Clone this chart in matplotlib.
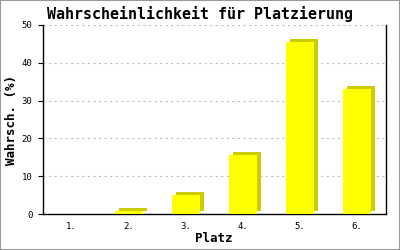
import matplotlib
matplotlib.use("Agg")
import matplotlib.pyplot as plt
import matplotlib.transforms as mtransforms
from matplotlib.patches import Rectangle

categories = ["1.", "2.", "3.", "4.", "5.", "6."]
values = [0.0, 0.7, 5.0, 15.6, 45.5, 33.1]
yticks = [0, 10, 20, 30, 40, 50]

plt.rcParams['lines.scale_dashes'] = False
mono = ['DejaVu Sans Mono']

fig = plt.figure(figsize=(4, 2.5), dpi=100)
fig.patch.set_facecolor('white')
fig.patches.append(Rectangle((0, 0), 1, 1, transform=fig.transFigure,
                             fill=False, edgecolor='#999999', linewidth=1.5))

ax = fig.add_axes([43/400, 36/250, (385.5-43)/400, (214-25)/250])
x = list(range(1, len(categories) + 1))
width = 0.49

shade = mtransforms.offset_copy(ax.transData, fig=fig, x=4, y=3, units='dots')
ax.bar(x, values, width=width, color='#CCCC00', transform=shade, zorder=2)
ax.bar(x, values, width=width, color='#FFFF00', zorder=3)

ax.set_xlim(0.5, 6.5)
ax.set_ylim(0, 50)
ax.set_yticks(yticks)
ax.set_yticklabels([str(t) for t in yticks], family=mono, fontsize=6.5)
ax.set_xticks(x)
ax.set_xticklabels(categories, family=mono, fontsize=6.5)
ax.tick_params(axis='x', length=0, pad=6)
ax.tick_params(axis='y', direction='out', length=3.6, width=0.8, pad=4)

ax.yaxis.grid(True, color='#BBBBBB', linewidth=0.8, linestyle=(0, (1.5, 2.5)), zorder=1)
ax.set_axisbelow(True)

ax.spines['top'].set_visible(False)
for s in ['left', 'bottom', 'right']:
    ax.spines[s].set_linewidth(1.0)
    ax.spines[s].set_color('black')

fig.text(214/400, 1 - 238/250, "Platz", family=mono, fontweight='bold',
         fontsize=9, ha='center', va='center')
fig.text(12/400, 1 - 120/250, "Wahrsch. (%)", family=mono, fontweight='bold',
         fontsize=9, ha='center', va='center', rotation=90)
fig.text(0.5, 1 - 14/250, "Wahrscheinlichkeit für Platzierung", family=mono,
         fontweight='bold', fontsize=10.8, ha='center', va='center')

fig.savefig("out.png", dpi=100)
